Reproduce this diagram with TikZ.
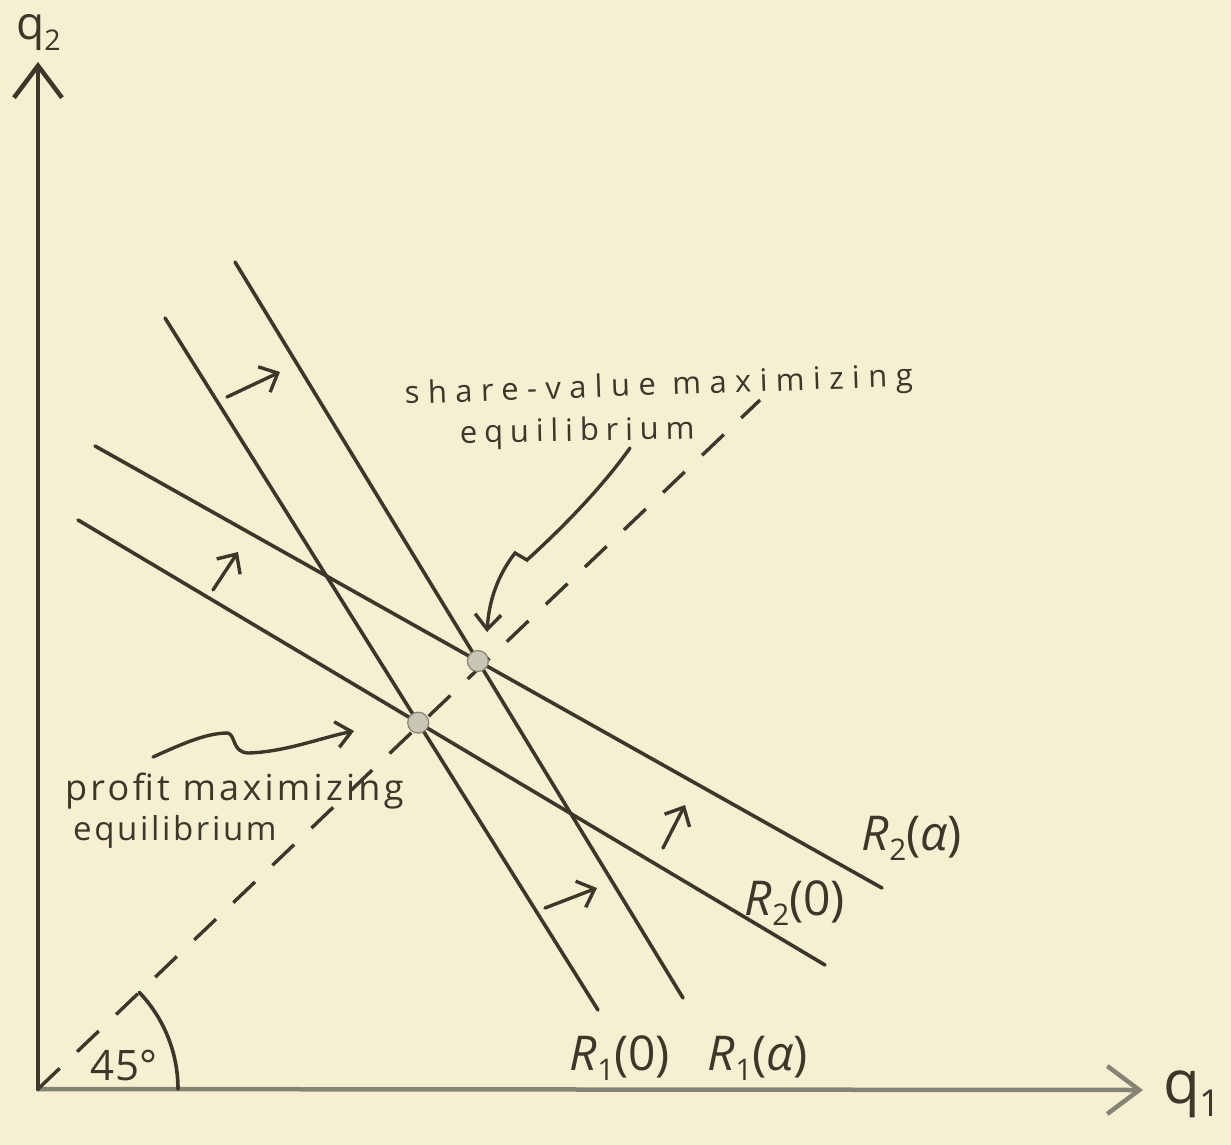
\documentclass[tikz,border=0pt]{standalone}
\usepackage{fontspec}
\setmainfont{Open Sans}
\usetikzlibrary{arrows.meta,calc}
\definecolor{paper}{HTML}{F6F0D3}
\definecolor{ink}{HTML}{3B3729}
\definecolor{axisgray}{HTML}{858373}
\definecolor{dotfill}{HTML}{C9C7B4}
\newcommand{\subx}[1]{\raisebox{-0.22em}{\scalebox{0.62}{#1}}}
\begin{document}
\begin{tikzpicture}[x=1pt,y=-1pt,
  curve/.style={draw=ink,line width=3.6pt,line cap=round},
  axisline/.style={line width=4.5pt,line cap=round},
  bigtip/.style={-{Straight Barb[length=32pt,width=48pt,line width=4.5pt]}},
  shiftarrow/.style={draw=ink,line width=3.4pt,line cap=round,-{Straight Barb[length=15pt,width=28pt,line width=3.4pt]}},
  note/.style={draw=ink,line width=3.4pt,line cap=round,-{Straight Barb[length=15pt,width=26pt,line width=3.4pt]}},
  eqdot/.style={circle,fill=dotfill,draw=axisgray,line width=1.2pt,minimum size=21pt,inner sep=0pt},
  hand/.style={text=ink,inner sep=0pt},
  lab/.style={text=ink,inner sep=0pt,font=\fontsize{48}{52}\selectfont}
]
\fill[paper] (0,0) rectangle (1231,1145);
\useasboundingbox (0,0) rectangle (1231,1145);

% axes
\coordinate (O) at (38,1089);
\coordinate (Ytop) at (38,62);
\coordinate (Xend) at (1143,1090);
\draw[axisline,draw=axisgray,bigtip] (O) -- (Xend);
\draw[axisline,draw=ink,bigtip] (O) -- (Ytop);
\node[hand,anchor=base west,font=\fontsize{46}{50}\selectfont] (q2) at (16,40) {q\subx{2}};
\node[hand,anchor=base west,font=\fontsize{60}{64}\selectfont] (q1) at (1163,1103) {q\subx{1}};

% 45 degree dashed line
\coordinate (D) at (760,400);
\coordinate (arcstart) at ($(O)+(140,0)$);
\draw[ink,line width=3.4pt,dash pattern=on 30pt off 24pt] (O) -- (D);
\draw[curve] (arcstart) arc[start angle=0,end angle=-43.6,radius=140];
\node[hand,anchor=base,font=\fontsize{42}{46}\selectfont] (ang) at (124,1080) {45°};

% reaction functions
\coordinate (R1aT) at (235,262);  \coordinate (R1aB) at (683,998);
\coordinate (R10T) at (165,318);  \coordinate (R10B) at (598,1010);
\coordinate (R2aL) at (95,446);   \coordinate (R2aR) at (882,888);
\coordinate (R20L) at (78,520);   \coordinate (R20R) at (825,965);
\draw[curve] (R1aT) -- (R1aB);
\draw[curve] (R10T) -- (R10B);
\draw[curve] (R2aL) -- (R2aR);
\draw[curve] (R20L) -- (R20R);

% equilibria
\node[eqdot] (Eprofit) at (intersection of R10T--R10B and R20L--R20R) {};
\node[eqdot] (Eshare) at (intersection of R1aT--R1aB and R2aL--R2aR) {};

% labels of lines
\node[lab,anchor=base] (l10) at (620,1070) {\textit{R}\subx{1}(0)};
\node[lab,anchor=base] (l1a) at (758,1070) {\textit{R}\subx{1}(\textit{α})};
\node[lab,anchor=base] (l2a) at (912,850) {\textit{R}\subx{2}(\textit{α})};
\node[lab,anchor=base] (l20) at (795,915) {\textit{R}\subx{2}(0)};

% shift arrows
\coordinate (s1a) at (227,397); \coordinate (s1b) at (280,372);
\coordinate (s2a) at (213,590); \coordinate (s2b) at (238,552);
\coordinate (s3a) at (545,908); \coordinate (s3b) at (597,888);
\coordinate (s4a) at (663,848); \coordinate (s4b) at (685,805);
\draw[shiftarrow] (s1a) -- (s1b);
\draw[shiftarrow] (s2a) -- (s2b);
\draw[shiftarrow] (s3a) -- (s3b);
\draw[shiftarrow] (s4a) -- (s4b);

% annotations
\node[hand,anchor=base west,rotate=2,font=\fontsize{31}{34}\selectfont\addfontfeature{LetterSpace=27}] (sv1) at (405,404) {share-value maximizing};
\node[hand,anchor=base west,rotate=1,font=\fontsize{31}{34}\selectfont\addfontfeature{LetterSpace=22}] (sv2) at (460,443) {equilibrium};
\node[hand,anchor=base west,font=\fontsize{36}{40}\selectfont\addfontfeature{LetterSpace=9}] (pm1) at (65,800) {profit maximizing};
\node[hand,anchor=base west,font=\fontsize{33}{36}\selectfont\addfontfeature{LetterSpace=8}] (pm2) at (73,840) {equilibrium};

\coordinate (sa0) at (630,448);
\coordinate (sa1) at (527,560);
\coordinate (sa2) at (515,553);
\coordinate (satip) at (487,632);
\draw[note] (sa0) .. controls (600,490) and (560,530) .. (sa1) -- (sa2) .. controls (498,575) and (489,600) .. (satip);

\coordinate (pa0) at (153,757);
\coordinate (pa1) at (228,733);
\coordinate (pa2) at (248,753);
\coordinate (patip) at (354,731);
\draw[note] (pa0) .. controls (180,745) and (205,733) .. (pa1) .. controls (236,736) and (232,752) .. (pa2) .. controls (285,752) and (320,738) .. (patip);
\end{tikzpicture}
\end{document}
